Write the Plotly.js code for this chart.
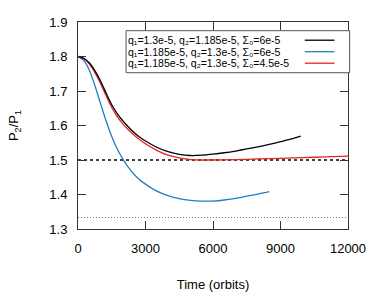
<!DOCTYPE html>
<html>
<head>
<meta charset="utf-8">
<script src="https://cdn.plot.ly/plotly-3.0.1.min.js"></script>
<style>html,body{margin:0;padding:0;background:#fff;}#chart{width:374px;height:299px;}</style>
</head>
<body>
<div id="chart"></div>
<script>
// Black: q1=1.3e-5, q2=1.185e-5, Sigma0=6e-5
const tBlack = [0,250,500,750,1000,1250,1500,1750,2000,2250,2500,2750,3000,3500,4000,4500,5000,5500,6000,6500,7000,7500,8000,8500,9000,9500,9900];
const pBlack = [1.800,1.795,1.782,1.759,1.729,1.694,1.660,1.634,1.613,1.595,1.579,1.566,1.555,1.537,1.524,1.516,1.513,1.514,1.517,1.521,1.526,1.532,1.538,1.545,1.553,1.561,1.569];
// Blue: q1=1.185e-5, q2=1.3e-5, Sigma0=6e-5
const tBlue = [0,250,500,750,1000,1250,1500,1750,2000,2250,2500,2750,3000,3500,4000,4500,5000,5500,6000,6500,7000,7500,8000,8500];
const pBlue = [1.800,1.789,1.761,1.716,1.664,1.613,1.568,1.531,1.502,1.478,1.458,1.442,1.430,1.410,1.397,1.388,1.383,1.381,1.381,1.384,1.389,1.395,1.401,1.408];
// Red: q1=1.185e-5, q2=1.3e-5, Sigma0=4.5e-5
const tRed = [0,250,500,750,1000,1250,1500,1750,2000,2250,2500,2750,3000,3500,4000,4500,5000,5500,6000,7000,8000,9000,10000,11000,12000];
const pRed = [1.800,1.794,1.779,1.754,1.722,1.686,1.652,1.625,1.604,1.587,1.572,1.559,1.547,1.528,1.514,1.506,1.501,1.500,1.500,1.501,1.503,1.505,1.507,1.509,1.511];
// Reference resonances
const refX = [0, 12000];
const res32 = [1.5, 1.5];
const res43 = [4/3, 4/3];

const seriesNames = [
  'q₁=1.3e-5, q₂=1.185e-5, Σ₀=6e-5',
  'q₁=1.185e-5, q₂=1.3e-5, Σ₀=6e-5',
  'q₁=1.185e-5, q₂=1.3e-5, Σ₀=4.5e-5'
];
const seriesColors = ['#000000', '#1f7fc4', '#e8221c'];

const xTicks = [0, 3000, 6000, 9000, 12000];
const yTicks = [1.3, 1.4, 1.5, 1.6, 1.7, 1.8, 1.9];

const FONT = 'Liberation Sans, Arial, sans-serif';

const traces = [
  {x: refX, y: res43, mode: 'lines', line: {color: '#777', width: 1, dash: '1px,2px'}, showlegend: false, hoverinfo: 'skip'},
  {x: refX, y: res32, mode: 'lines', line: {color: '#000', width: 1.3, dash: '3px,3px'}, showlegend: false, hoverinfo: 'skip'},
  {x: tBlue, y: pBlue, mode: 'lines', line: {color: seriesColors[1], width: 1.3, shape: 'spline', smoothing: 0.6}, name: seriesNames[1], showlegend: false},
  {x: tRed, y: pRed, mode: 'lines', line: {color: seriesColors[2], width: 1.3, shape: 'spline', smoothing: 0.6}, name: seriesNames[2], showlegend: false},
  {x: tBlack, y: pBlack, mode: 'lines', line: {color: seriesColors[0], width: 1.3, shape: 'spline', smoothing: 0.6}, name: seriesNames[0], showlegend: false}
];

// Legend drawn gnuplot-style: text on left, sample line on right
const annotations = [];
const shapes = [];
const rowH = 0.0555;
shapes.push({type: 'rect', xref: 'paper', yref: 'paper', x0: 0.178, x1: 1.006, y0: 0.755, y1: 0.958,
  line: {color: '#555', width: 1}, fillcolor: '#fff', layer: 'above'});
for (let i = 0; i < 3; i++) {
  const yy = 0.912 - i * rowH;
  annotations.push({xref: 'paper', yref: 'paper', x: 0.181, y: yy, xanchor: 'left', yanchor: 'middle',
    borderpad: 0,
    text: seriesNames[i], showarrow: false, font: {family: FONT, size: 10.5, color: '#000'}});
  shapes.push({type: 'line', xref: 'paper', yref: 'paper', x0: 0.84, x1: 0.95, y0: yy, y1: yy,
    line: {color: seriesColors[i], width: 1.3}, layer: 'above'});
}

const axisCommon = {
  showgrid: false, zeroline: false, showline: true, linecolor: '#333', linewidth: 1,
  mirror: 'ticks', ticks: 'inside', ticklen: 8, tickcolor: '#333', tickwidth: 1,
  tickfont: {family: FONT, size: 13, color: '#000'}
};

const layout = {
  width: 374, height: 299,
  margin: {l: 78, r: 26, t: 22, b: 70},
  paper_bgcolor: '#fff', plot_bgcolor: '#fff',
  showlegend: false,
  xaxis: Object.assign({}, axisCommon, {
    range: [0, 12000], tickvals: xTicks, ticktext: xTicks.map(String),
    ticklabelstandoff: 7,
    title: {text: 'Time (orbits)', font: {family: FONT, size: 13, color: '#000'}, standoff: 25}
  }),
  yaxis: Object.assign({}, axisCommon, {
    range: [1.3, 1.9], tickvals: yTicks, ticktext: yTicks.map(v => v.toFixed(1)),
    ticklabelstandoff: 7,
    title: {text: 'P<sub>2</sub>/P<sub>1</sub>', font: {family: FONT, size: 13, color: '#000'}, standoff: 27}
  }),
  annotations: annotations,
  shapes: shapes
};

Plotly.newPlot('chart', traces, layout, {displayModeBar: false, staticPlot: true});
</script>
</body>
</html>
